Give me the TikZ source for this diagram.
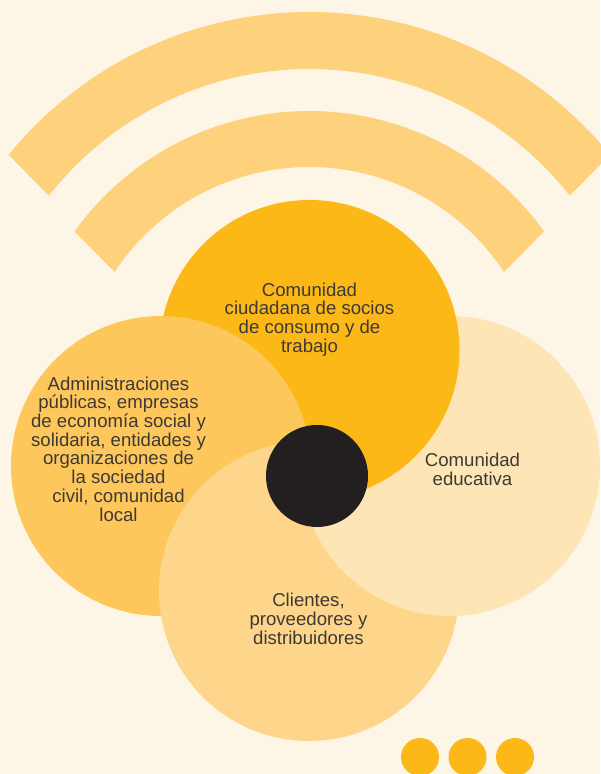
\documentclass[tikz,border=0pt]{standalone}
\usepackage{fontspec}
\setmainfont{Liberation Sans}
\usetikzlibrary{calc}
\definecolor{fondo}{HTML}{FDF5E5}
\definecolor{onda}{HTML}{FED27D}
\definecolor{amarillo}{HTML}{FBB817}
\definecolor{naranja}{HTML}{FEC75C}
\definecolor{claro}{HTML}{FED68B}
\definecolor{palido}{HTML}{FEE5B5}
\definecolor{negro}{HTML}{231F20}
\definecolor{tinta}{HTML}{3D3935}
\begin{document}
\begin{tikzpicture}[x=1pt,y=1pt,
  texto/.style={align=center,text=tinta,font=\fontsize{18.6}{18.7}\selectfont}]
\useasboundingbox (0,0) rectangle (600,774);
\fill[fondo] (0,0) rectangle (600,774);
\coordinate (o) at (309.3,374);
\fill[onda] (o) ++(140.8:388pt) arc[start angle=140.8,end angle=39.2,radius=388pt]
  -- ($(o)+(38.1:331pt)$) arc[start angle=38.1,end angle=141.9,radius=331pt] -- cycle;
\fill[onda] (o) ++(144.3:289pt) arc[start angle=144.3,end angle=35.7,radius=289pt]
  -- ($(o)+(33.3:233pt)$) arc[start angle=33.3,end angle=146.7,radius=233pt] -- cycle;
\coordinate (arriba) at (309.5,424);
\coordinate (izq) at (161,308);
\coordinate (der) at (450,308);
\coordinate (abajo) at (309,183);
\fill[claro] (abajo) circle[radius=150pt];
\fill[palido] (der) circle[radius=150pt];
\fill[amarillo] (arriba) circle[radius=150pt];
\fill[naranja] (izq) circle[radius=150pt];
\begin{scope}
\clip (izq) circle[radius=150pt];
\fill[claro] (abajo) circle[radius=150pt];
\end{scope}
\node[circle,fill=negro,inner sep=0pt,minimum size=102pt] (centro) at (317,298) {};
\node[texto] (socios) at (309.5,454.6) {Comunidad\\ciudadana de socios\\de consumo y de\\trabajo};
\node[texto] (admin) at (118.5,325) {Administraciones\\públicas, empresas\\de economía social y\\solidaria, entidades y\\organizaciones de\\la sociedad\\civil, comunidad\\local};
\node[texto] (educa) at (472.5,304.3) {Comunidad\\educativa};
\node[texto] (clientes) at (308.5,155.3) {Clientes,\\proveedores y\\distribuidores};
\foreach \x/\n in {420/p1,467.5/p2,515/p3}
  \node[circle,fill=amarillo,inner sep=0pt,minimum size=38pt] (\n) at (\x,17) {};
\end{tikzpicture}
\end{document}
